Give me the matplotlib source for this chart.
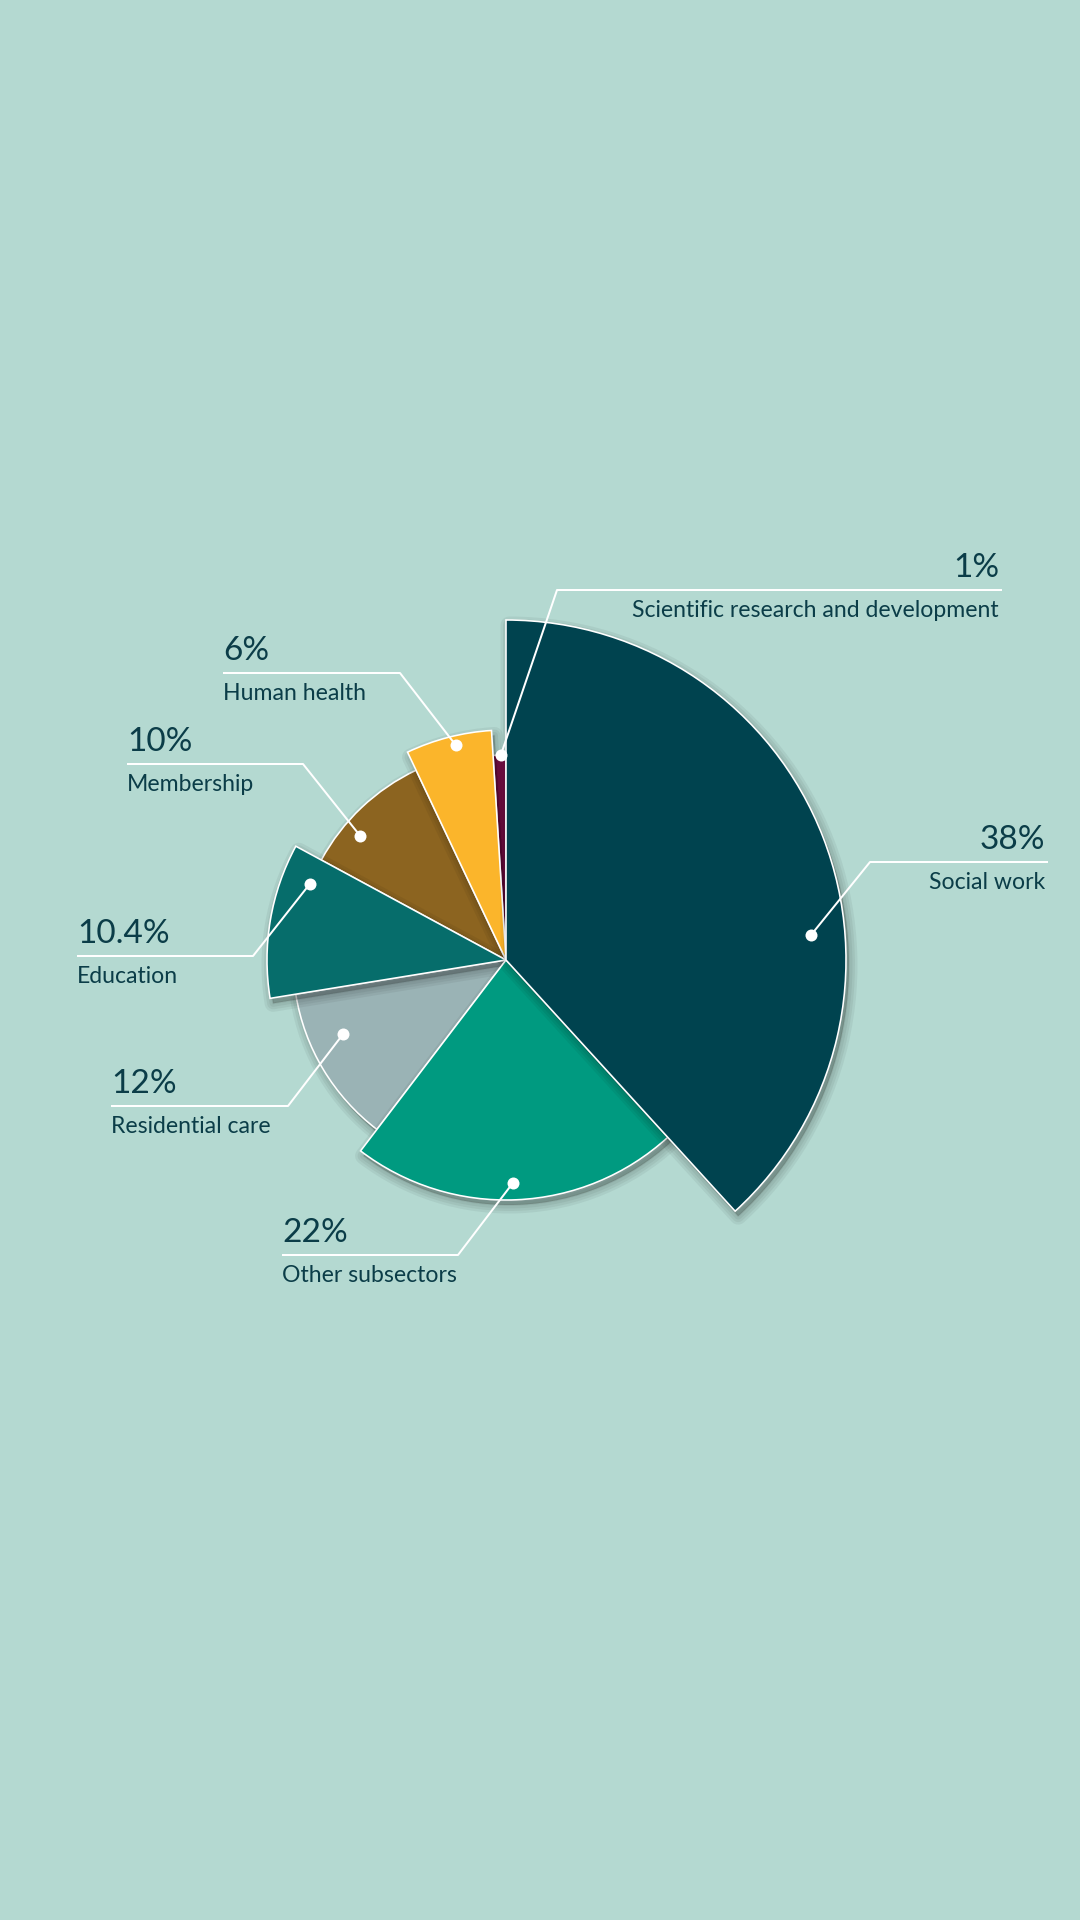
import matplotlib.pyplot as plt
import numpy as np
from matplotlib.patches import Wedge

# data, clockwise from 12 o'clock
categories = ["Social work", "Other subsectors", "Residential care", "Education",
              "Membership", "Human health", "Scientific research and development"]
shares = [38, 22, 12, 10.4, 10, 6, 1]
pct_labels = ["38%", "22%", "12%", "10.4%", "10%", "6%", "1%"]

# look of each slice
colors = ["#00434f", "#009a80", "#9ab3b5", "#066d6b", "#8c6420", "#fbb52b", "#7a0f48"]
radius = [340, 240, 213, 239, 210, 230, 205]
center = (506, 960)

# where the white dot sits: fraction of the sweep, fraction of the radius
dot_f = [0.62, 0.51, 0.65, 0.81, 0.33, 0.56, 0.6]
dot_r = [0.90, 0.93, 0.84, 0.88, 0.91, 0.96, 1.0]

# label layout (pixels from the top left)
side = ["R", "L", "L", "L", "L", "L", "R"]
text_x = [1045, 282, 111, 77, 127, 223, 999]
line_y = [862, 1255, 1106, 956, 764, 673, 590]
elbow_x = [870, 458, 288, 253, 303, 400, 557]

BG = "#b4d9d1"
INK = "#0b3d48"
PX = 0.72  # points per pixel at dpi 100

plt.rcParams['font.family'] = ['Lato', 'DejaVu Sans']

fig = plt.figure(figsize=(10.8, 19.2), dpi=100, facecolor=BG)
ax = fig.add_axes([0, 0, 1, 1])
ax.set_xlim(0, 1080)
ax.set_ylim(1920, 0)
ax.axis('off')

frac = np.array(shares) / np.sum(shares)
ends = np.cumsum(frac)
starts = ends - frac

order = np.argsort(radius)
for rank, i in enumerate(order):
    t1 = -90 + 360 * starts[i]
    t2 = -90 + 360 * ends[i]
    # soft drop shadow, a few stacked translucent layers
    for lw in [2, 7, 12, 17]:
        sh = Wedge((center[0] + 3, center[1] + 5), radius[i], t1, t2,
                   facecolor=(0, 0, 0, 0.055), edgecolor=(0, 0, 0, 0.05),
                   linewidth=lw * PX, joinstyle='round', zorder=2 * rank + 1)
        ax.add_patch(sh)
    w = Wedge(center, radius[i], t1, t2, facecolor=colors[i],
              edgecolor="white", linewidth=1.6 * PX, zorder=2 * rank + 2)
    ax.add_patch(w)

for i in range(len(categories)):
    t = np.deg2rad(-90 + 360 * (starts[i] + dot_f[i] * frac[i]))
    dx = center[0] + radius[i] * dot_r[i] * np.cos(t)
    dy = center[1] + radius[i] * dot_r[i] * np.sin(t)
    ly = line_y[i]
    if side[i] == "R":
        xs = [dx, elbow_x[i], text_x[i] + 3]
        ha = 'right'
    else:
        xs = [dx, elbow_x[i], text_x[i]]
        ha = 'left'
    ax.plot(xs, [dy, ly, ly], color="white", lw=2 * PX, zorder=100,
            solid_capstyle='butt')
    ax.plot(dx, dy, 'o', ms=12 * PX, color="white", mec="none", zorder=101)
    ax.text(text_x[i], ly - 13, pct_labels[i], ha=ha, va='baseline',
            fontsize=24, color=INK, zorder=102)
    ax.text(text_x[i], ly + 27, categories[i], ha=ha, va='baseline',
            fontsize=16.6, color=INK, zorder=102)

fig.savefig("out.png", dpi=100, facecolor=BG)
